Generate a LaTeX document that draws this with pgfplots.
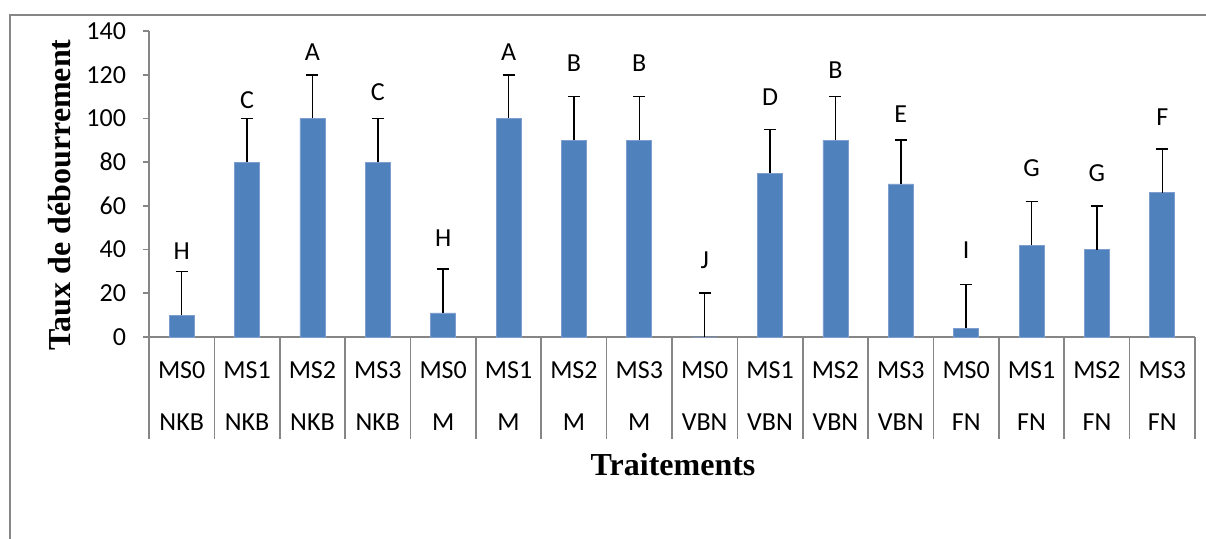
\documentclass[border=0pt]{standalone}
\usepackage{pgfplots}
\pgfplotsset{compat=1.18}
\usepackage{fontspec}
\setmainfont{Carlito}
\newfontfamily\timesfont{Liberation Serif}
\definecolor{barblue}{RGB}{79,129,189}
\definecolor{baredge}{RGB}{125,158,206}
\definecolor{axgray}{RGB}{134,134,134}
\pgfplotstableread{
x y e
0 10 20
1 80 20
2 100 20
3 80 20
4 11 20
5 100 20
6 90 20
7 90 20
8 0 20
9 75 20
10 90 20
11 70 20
12 4 20
13 42 20
14 40 20
15 66 20
}\bars
\pgfplotstableread{
x y l
0 39.3 H
1 108.4 C
2 130.5 A
3 111.8 C
4 45.3 H
5 130.5 A
6 125.4 B
7 125.4 B
8 35.2 J
9 109.9 D
10 122.2 B
11 102 E
12 39.5 I
13 77.3 G
14 75 G
15 100.7 F
}\letters
\begin{document}
\begin{tikzpicture}
\useasboundingbox (0pt,0pt) rectangle (603pt,269.5pt);
\draw[axgray, line width=0.8pt] (5pt,-30pt) -- (5pt,262pt) -- (650pt,262pt);
\begin{axis}[
  at={(74.5pt,101pt)}, anchor=south west,
  scale only axis, width=523pt, height=153pt,
  xmin=-0.5, xmax=15.5, ymin=0, ymax=140,
  axis x line*=bottom, axis y line*=left,
  axis line style={-, draw=axgray, line width=0.8pt},
  tick align=outside, major tick length=3pt,
  ytick={0,20,...,140},
  tick style={draw=axgray, line width=0.8pt},
  yticklabel style={font=\fontsize{13}{15}\selectfont, xshift=-5pt},
  /pgf/number format/assume math mode=true,
  xtick={0,...,15},
  xtick style={draw=white},
  xticklabels={{MS0\\NKB},{MS1\\NKB},{MS2\\NKB},{MS3\\NKB},{MS0\\M},{MS1\\M},{MS2\\M},{MS3\\M},{MS0\\VBN},{MS1\\VBN},{MS2\\VBN},{MS3\\VBN},{MS0\\FN},{MS1\\FN},{MS2\\FN},{MS3\\FN}},
  xticklabel style={align=center, font=\fontsize{13}{26}\selectfont, anchor=north, yshift=-6pt},
  ylabel={\timesfont\bfseries Taux de débourrement},
  ylabel style={at={(axis description cs:-0.0851,0.464)}, anchor=center, font=\fontsize{16}{18}\selectfont},
  xlabel={\timesfont\bfseries Traitements},
  xlabel style={at={(axis description cs:0.501,-0.418)}, anchor=center, font=\fontsize{16}{18}\selectfont},
  clip=false,
]
\addplot[ycomb, axgray, line width=0.8pt, mark=none] coordinates {
  (-0.5,-46.7) (0.5,-46.7) (1.5,-46.7) (2.5,-46.7) (3.5,-46.7) (4.5,-46.7)
  (5.5,-46.7) (6.5,-46.7) (7.5,-46.7) (8.5,-46.7) (9.5,-46.7) (10.5,-46.7)
  (11.5,-46.7) (12.5,-46.7) (13.5,-46.7) (14.5,-46.7) (15.5,-46.7)};
\addplot[ybar, bar width=12.5pt, fill=barblue, draw=baredge, line width=0.4pt,
  error bars/.cd, y dir=plus, y explicit,
  error bar style={black, line width=0.8pt},
  error mark options={black, line width=0.8pt, mark size=3pt, rotate=90}]
  table[x=x, y=y, y error=e] {\bars};
\addplot[draw=none, mark=none, nodes near coords, point meta=explicit symbolic,
  every node near coord/.style={anchor=center, font=\fontsize{13}{15}\selectfont, black}]
  table[x=x, y=y, meta=l] {\letters};
\end{axis}
\end{tikzpicture}
\end{document}
